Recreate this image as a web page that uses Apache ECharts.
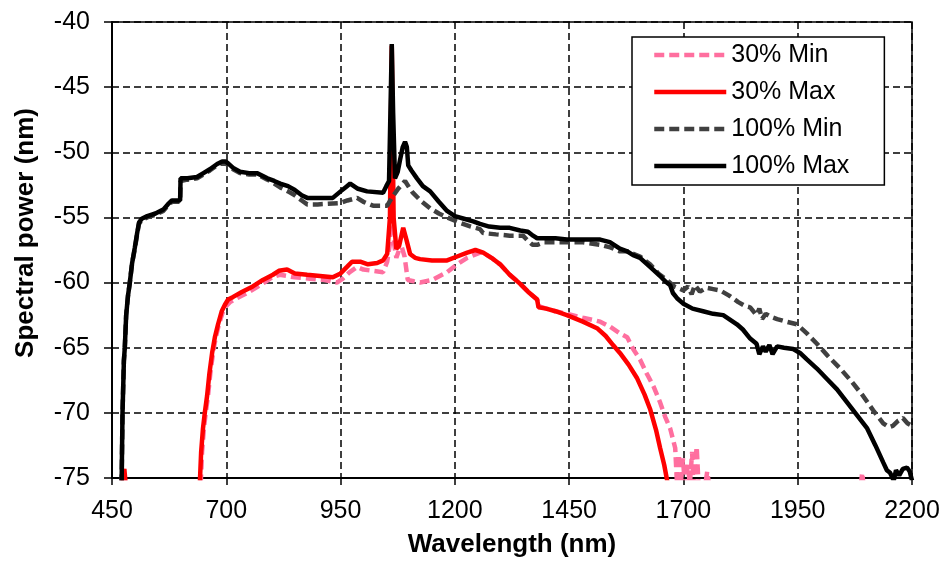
<!DOCTYPE html>
<html>
<head>
<meta charset="utf-8">
<script src="https://cdn.jsdelivr.net/npm/echarts@6.0.0/dist/echarts.min.js"></script>
<style>
  html, body { margin: 0; padding: 0; background: #fff; }
  #main { width: 951px; height: 563px; }
</style>
</head>
<body>
<div id="main"></div>
<script>
// spectra: [wavelength nm, power]
var seriesNames = ['30% Min', '30% Max', '100% Min', '100% Max'];

var pink30Min = [
  [470, -75.3], [475, -74.6], [479, -75.3], [480, '-'],
  [644, -75.5], [647, -73], [651, -71.2], [655, -70], [660, -68.7], [665, -67], [671, -65.4],
  [677, -64.2], [684, -63.2], [692, -62.3], [700, -61.8], [708, -61.5], [718, -61.3], [740, -60.9],
  [760, -60.5], [783, -60.0], [800, -59.6], [817, -59.4], [850, -59.6], [883, -59.7], [915, -59.8],
  [942, -60.0], [955, -59.7], [970, -59.2], [986, -58.8], [1000, -59.0], [1021, -59.1], [1043, -59.2],
  [1052, -58.4], [1058, -57], [1063, -52.6], [1067, -57], [1072, -58.1], [1078, -57.5], [1084, -57.3],
  [1090, -58.0], [1097, -59.8], [1110, -59.9], [1124, -60.0], [1150, -59.8], [1183, -59.2],
  [1205, -58.6], [1227, -58.1], [1255, -57.7], [1262, -57.7], [1280, -58.1], [1299, -58.6],
  [1320, -59.4], [1343, -60.1], [1360, -60.7], [1380, -61.3], [1383, -61.8], [1400, -62.0],
  [1420, -62.2], [1445, -62.4], [1480, -62.7], [1518, -63.0], [1540, -63.4], [1561, -63.9],
  [1577, -64.2], [1590, -65.1], [1605, -65.9], [1620, -67.0], [1635, -68.0], [1649, -69.2],
  [1660, -70.3], [1671, -71.2], [1682, -72.7], [1686, -75.5], [1690, -73.2], [1694, -75.5],
  [1699, -73.5], [1703, -75.5], [1710, -74], [1714, -75.5], [1719, -73.0], [1722, -75.5],
  [1729, -72.6], [1733, -75.5], [1748, -75.5], [1752, -74.5], [1756, -75.5], [1760, '-'],
  [2088, -75.5], [2091, -74.6], [2094, -75.5]
];

var red30Max = [
  [473, -75.5], [477, -74.3], [480, -75.5], [481, '-'],
  [642, -75.5], [645, -73], [649, -71.2], [653, -70], [658, -68.7], [663, -67], [669, -65.4],
  [675, -64.2], [682, -63.2], [690, -62.2], [697, -61.7], [704, -61.3], [715, -61.1], [735, -60.7],
  [758, -60.3], [780, -59.8], [802, -59.4], [815, -59.1], [833, -59.0], [850, -59.3], [877, -59.4],
  [905, -59.5], [933, -59.6], [950, -59.3], [964, -58.8], [975, -58.4], [993, -58.4], [1010, -58.6],
  [1030, -58.5], [1043, -58.3], [1052, -57.8], [1058, -55], [1062, -41.8], [1066, -55], [1072, -57.4],
  [1078, -57.2], [1087, -55.8], [1094, -56.7], [1102, -57.8], [1113, -58.1], [1124, -58.2],
  [1150, -58.3], [1183, -58.3], [1205, -58.0], [1227, -57.7], [1245, -57.5], [1262, -57.7],
  [1280, -58.1], [1299, -58.6], [1320, -59.4], [1343, -60.1], [1360, -60.7], [1380, -61.3],
  [1383, -61.9], [1400, -62.0], [1420, -62.2], [1445, -62.5], [1480, -63.0], [1511, -63.5],
  [1530, -64.1], [1546, -64.8], [1561, -65.4], [1580, -66.3], [1598, -67.3], [1615, -68.6],
  [1627, -69.7], [1640, -71.3], [1649, -72.7], [1658, -74.0], [1666, -75.5]
];

var grey100Min = [
  [471, -75.5], [473, -70], [476, -66], [478, -65], [481, -62.5], [485, -61], [489, -60], [494, -58.5],
  [500, -57.4], [505, -56.3], [509, -55.5], [515, -55.2], [527, -55.0], [545, -54.8], [562, -54.5],
  [572, -54.1], [581, -53.8], [599, -53.8], [600, -52.2], [615, -52.1], [636, -52.0], [650, -51.7],
  [664, -51.4], [680, -51.0], [691, -50.8], [704, -50.95], [715, -51.3], [730, -51.6], [750, -51.7],
  [767, -51.7], [790, -52.1], [805, -52.4], [818, -52.7], [835, -53.0], [850, -53.3], [865, -53.7],
  [877, -54.0], [900, -54.0], [949, -53.9], [965, -53.7], [986, -53.5], [1000, -53.8], [1021, -54.1],
  [1052, -54.1], [1062, -53.5], [1076, -52.8], [1091, -52.2], [1100, -52.7], [1108, -53.1],
  [1125, -53.7], [1146, -54.3], [1165, -54.7], [1183, -55.0], [1210, -55.4], [1235, -55.7],
  [1255, -55.9], [1262, -56.2], [1290, -56.3], [1320, -56.4], [1349, -56.4], [1360, -56.8],
  [1370, -57.1], [1380, -57.1], [1395, -56.9], [1420, -56.9], [1450, -56.9], [1480, -56.9],
  [1518, -57.1], [1540, -57.3], [1561, -57.6], [1577, -57.6], [1605, -58.0], [1627, -58.6],
  [1645, -59.3], [1664, -59.8], [1680, -60.3], [1700, -60.6], [1710, -60.3], [1718, -60.9],
  [1725, -60.2], [1736, -60.7], [1750, -60.4], [1765, -60.5], [1780, -60.6], [1800, -61.0],
  [1820, -61.5], [1835, -61.8], [1846, -61.9], [1860, -62.5], [1866, -62.0], [1872, -62.8],
  [1880, -62.4], [1890, -62.6], [1905, -62.8], [1925, -63.0], [1948, -63.2], [1970, -63.9],
  [1992, -64.7], [2015, -65.6], [2043, -66.6], [2068, -67.6], [2093, -68.7], [2115, -69.8],
  [2137, -70.8], [2150, -71.1], [2158, -71.0], [2170, -70.6], [2180, -70.4], [2190, -70.8], [2200, -71.0]
];

var black100Max = [
  [471, -75.5], [473, -70], [476, -66], [478, -65], [481, -62.5], [485, -61], [489, -60], [494, -58.5],
  [500, -57.3], [505, -56.2], [509, -55.4], [515, -55.1], [527, -54.9], [545, -54.7], [562, -54.4],
  [572, -54.0], [581, -53.7], [599, -53.7], [600, -52.0], [615, -52.0], [636, -51.9], [650, -51.6],
  [664, -51.3], [680, -50.9], [691, -50.7], [698, -50.7], [704, -50.85], [715, -51.2], [730, -51.5],
  [750, -51.6], [767, -51.6], [790, -52.0], [805, -52.2], [818, -52.4], [835, -52.6], [850, -52.9],
  [865, -53.3], [877, -53.5], [900, -53.5], [933, -53.5], [950, -53.0], [964, -52.6], [971, -52.4],
  [988, -52.8], [1008, -53.0], [1043, -53.1], [1050, -52.6], [1056, -52.2], [1059, -47],
  [1062, -41.7], [1065, -47], [1069, -52], [1075, -51.5], [1080, -50.6], [1086, -49.6], [1091, -49.2],
  [1095, -49.6], [1098, -51.0], [1105, -51.4], [1117, -52.0], [1130, -52.6], [1146, -53.0],
  [1165, -53.8], [1183, -54.5], [1200, -54.9], [1220, -55.1], [1240, -55.3], [1255, -55.5],
  [1275, -55.7], [1299, -55.8], [1320, -55.8], [1343, -56.0], [1360, -56.1], [1371, -56.4],
  [1380, -56.6], [1395, -56.6], [1420, -56.6], [1445, -56.7], [1480, -56.7], [1518, -56.7],
  [1539, -56.9], [1561, -57.4], [1577, -57.6], [1590, -57.9], [1605, -58.1], [1627, -58.8],
  [1649, -59.5], [1660, -59.9], [1671, -60.2], [1677, -60.8], [1686, -61.2], [1699, -61.6],
  [1720, -62.0], [1743, -62.2], [1765, -62.4], [1787, -62.5], [1800, -62.8], [1817, -63.2],
  [1830, -63.6], [1846, -64.3], [1860, -64.7], [1866, -65.5], [1874, -64.9], [1880, -65.3],
  [1888, -64.8], [1895, -65.5], [1905, -64.9], [1920, -65.0], [1940, -65.1], [1955, -65.4],
  [1970, -65.9], [1992, -66.6], [2014, -67.4], [2036, -68.2], [2058, -69.2], [2080, -70.2],
  [2102, -71.2], [2120, -72.5], [2137, -73.8], [2145, -74.4], [2152, -74.6], [2160, -75.2],
  [2165, -74.4], [2172, -74.8], [2180, -74.3], [2189, -74.2], [2195, -74.5], [2200, -75.2]
];

var chart = echarts.init(document.getElementById('main'), null, { renderer: 'canvas' });

var font = 'Liberation Sans, Arial, Helvetica, sans-serif';
var dashGrid = {
  show: true,
  lineStyle: { color: '#000', width: 1.5, type: [7, 4] }
};

function lineSeries(name, data, color, dashed) {
  return {
    name: name,
    type: 'line',
    data: data,
    symbol: 'none',
    connectNulls: false,
    clip: true,
    lineStyle: { color: color, width: 4.5, type: dashed ? [10, 5] : 'solid' },
    itemStyle: { color: color }
  };
}

function plainNum(v) {
  return String(v);
}

chart.setOption({
  animation: false,
  backgroundColor: '#fff',
  textStyle: { fontFamily: font },
  grid: {
    left: 112, right: 39, top: 22, bottom: 80,
    show: true, borderColor: '#000', borderWidth: 1.5, backgroundColor: 'transparent'
  },
  legend: {
    orient: 'vertical',
    left: 632, top: 37,
    itemWidth: 72, itemHeight: 14, itemGap: 7,
    padding: [3, 35, 4, 20],
    borderColor: '#000', borderWidth: 1.5,
    backgroundColor: '#fff',
    itemStyle: { opacity: 0 },
    lineStyle: { width: 4.5 },
    textStyle: { fontSize: 25, color: '#000', lineHeight: 30, fontFamily: font },
    data: seriesNames
  },
  xAxis: {
    type: 'value',
    min: 450, max: 2200, interval: 250,
    name: 'Wavelength (nm)',
    nameLocation: 'middle',
    nameGap: 54,
    nameTextStyle: { fontSize: 26, fontWeight: 'bold', color: '#000', fontFamily: font },
    axisLine: { show: true, onZero: false, lineStyle: { color: '#000', width: 2 } },
    axisTick: { show: true, length: 7, lineStyle: { color: '#000', width: 1.5 } },
    axisLabel: { fontSize: 25, color: '#000', margin: 21, fontFamily: font, formatter: plainNum },
    splitLine: dashGrid
  },
  yAxis: {
    type: 'value',
    min: -75, max: -40, interval: 5,
    name: 'Spectral power (nm)',
    nameLocation: 'middle',
    nameGap: 73,
    nameTextStyle: { fontSize: 26, fontWeight: 'bold', color: '#000', fontFamily: font, padding: [0, 0, 0, 34] },
    axisLine: { show: true, onZero: false, lineStyle: { color: '#000', width: 2 } },
    axisTick: { show: true, length: 8, lineStyle: { color: '#000', width: 1.5 } },
    axisLabel: { fontSize: 25, color: '#000', margin: 22, fontFamily: font, formatter: plainNum },
    splitLine: dashGrid
  },
  series: [
    lineSeries(seriesNames[0], pink30Min, '#ff6f9f', true),
    lineSeries(seriesNames[1], red30Max, '#ff0000', false),
    lineSeries(seriesNames[2], grey100Min, '#404040', true),
    lineSeries(seriesNames[3], black100Max, '#000000', false)
  ]
});
</script>
</body>
</html>
